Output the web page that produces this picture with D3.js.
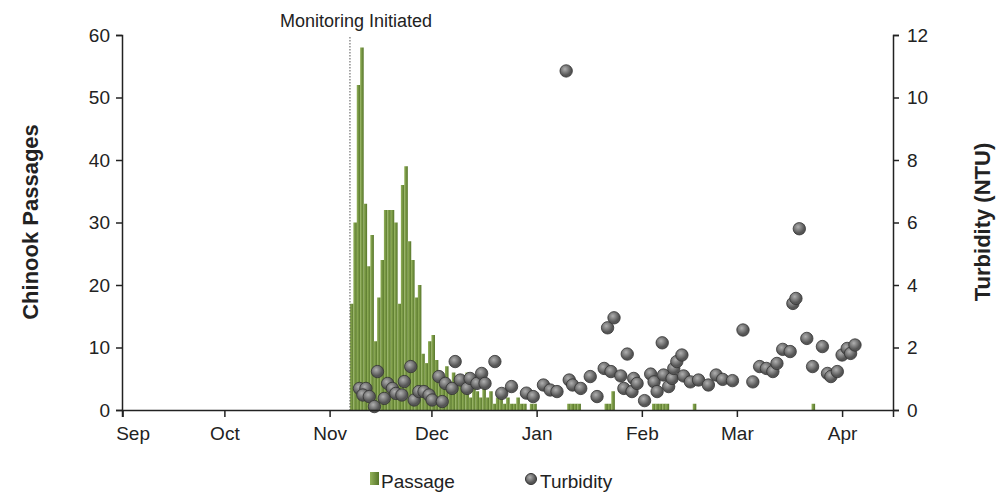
<!DOCTYPE html>
<html><head><meta charset="utf-8">
<script src="https://cdn.jsdelivr.net/npm/d3@7"></script>
<style>body{margin:0;background:#fff;font-family:"Liberation Sans",Arial,sans-serif}</style>
</head><body><div id="chart"></div>
<script>
// season starts Sep 1 2012; days are offsets from that date
const seasonStart = new Date(2012, 8, 1);
const monthLabels = ["Sep", "Oct", "Nov", "Dec", "Jan", "Feb", "Mar", "Apr"];
const monitoringDay = 67;

const passageDays = d3.range(67, 122).concat([131, 132, 133, 134, 142, 143, 144, 156, 157, 158, 159, 160, 168, 203]);
const passageValues = [17, 30, 52, 58, 33, 23, 28, 11, 18, 24, 32, 32, 32, 30, 17, 36, 39, 27, 24, 18, 20, 9, 7.5, 11, 12,
  8, 5, 4, 7, 3, 6, 4, 5, 3, 6, 2, 4, 3, 2, 5, 2, 3, 1, 2, 3, 1, 2, 1, 1, 2, 1, 1, 0, 1, 1,
  1, 1, 1, 1, 1, 1, 3, 1, 1, 1, 1, 1, 1, 1];

const turbDays = [69.8, 71.7, 70.8, 72.7, 74.2, 75.1, 77.1, 78.1, 79.5, 80.5, 82.3, 83, 84.9, 85.9, 87.3, 88.8, 90.3, 91.2, 93.2, 94.2,
  95.1, 97.1, 98, 99.5, 101.5, 102.4, 104.4, 105.8, 106.8, 109.7, 111.7, 114.6, 119, 121, 124, 126, 128, 130.7, 131.6, 132.6,
  135, 137.8, 139.8, 141.9, 143.9, 146.8, 142.9, 144.8, 148.7, 147.7, 150.1, 150.6, 151.6, 153.8, 155.6, 156.6, 157.5, 159,
  159.4, 160.9, 161.9, 162.4, 163.3, 164.8, 165.3, 167.3, 169.7, 172.6, 174.9, 176.8, 179.7, 182.8, 185.7, 187.7, 189.7,
  191.6, 192.8, 194.5, 196.7, 197.5, 198.4, 199.4, 201.6, 203.3, 206.2, 207.7, 208.7, 210.6, 212, 213.5, 214.5, 215.8];
const turbValues = [0.69, 0.69, 0.48, 0.43, 0.11, 1.23, 0.37, 0.85, 0.69, 0.53, 0.48, 0.91, 1.39, 0.32, 0.59, 0.59, 0.48, 0.32, 1.07, 0.27,
  0.85, 0.69, 1.55, 0.96, 0.69, 1.01, 0.85, 1.17, 0.85, 1.55, 0.53, 0.75, 0.54, 0.43, 0.8, 0.64, 0.59, 10.85, 0.96, 0.8,
  0.69, 1.07, 0.43, 1.33, 1.23, 1.09, 2.63, 2.95, 1.79, 0.69, 0.59, 1.01, 0.85, 0.3, 1.15, 0.9, 0.59, 2.15,
  1.12, 0.75, 1.01, 1.33, 1.55, 1.76, 1.09, 0.9, 0.96, 0.8, 1.12, 0.98, 0.94, 2.56, 0.9, 1.39, 1.33,
  1.23, 1.49, 1.94, 1.87, 3.41, 3.57, 5.8, 2.29, 1.39, 2.03, 1.17, 1.07, 1.23, 1.76, 1.97, 1.81, 2.08];

const W = 1000, H = 496;
const mLeft = 122, mRight = 893, mTop = 35, mBottom = 410;
const day = d => new Date(seasonStart.getTime() + d * 864e5);

const x = d3.scaleTime()
  .domain([new Date(2012, 7, 31, 20), new Date(2013, 3, 16)])
  .range([mLeft, mRight]);
const yL = d3.scaleLinear().domain([0, 60]).range([mBottom, mTop]);
const yR = d3.scaleLinear().domain([0, 12]).range([mBottom, mTop]);

const svg = d3.select("#chart").append("svg").attr("width", W).attr("height", H);
const defs = svg.append("defs");
const bg = defs.append("linearGradient").attr("id", "barg").attr("x1", 0).attr("x2", 1);
bg.append("stop").attr("offset", "0").attr("stop-color", "#93b25a");
bg.append("stop").attr("offset", "1").attr("stop-color", "#56752a");
const rg = defs.append("radialGradient").attr("id", "dotg").attr("cx", "0.4").attr("cy", "0.35");
rg.append("stop").attr("offset", "0").attr("stop-color", "#b0b0b0");
rg.append("stop").attr("offset", "1").attr("stop-color", "#555");

const pxDay = x(day(1)) - x(day(0));

svg.append("g").selectAll("rect")
  .data(passageDays.map((d, i) => ({ d, v: passageValues[i] })).filter(p => p.v > 0))
  .enter().append("rect")
  .attr("x", p => x(day(p.d)))
  .attr("y", p => yL(p.v))
  .attr("width", pxDay * 1.05)
  .attr("height", p => mBottom - yL(p.v))
  .attr("fill", "url(#barg)");

svg.append("line")
  .attr("x1", x(day(monitoringDay))).attr("x2", x(day(monitoringDay)))
  .attr("y1", mTop + 2).attr("y2", mBottom)
  .attr("stroke", "#555").attr("stroke-width", 1).attr("stroke-dasharray", "1.5,1.5");
svg.append("text").attr("x", 356).attr("y", 27).attr("text-anchor", "middle")
  .attr("font-size", 18).attr("fill", "#222").text("Monitoring Initiated");

svg.append("g").selectAll("circle")
  .data(turbDays.map((d, i) => ({ d, v: turbValues[i] })))
  .enter().append("circle")
  .attr("cx", p => x(day(p.d)))
  .attr("cy", p => yR(p.v))
  .attr("r", 6.2)
  .attr("fill", "url(#dotg)").attr("stroke", "#333").attr("stroke-width", 0.8);

// axes
const gl = svg.append("g").attr("transform", `translate(${mLeft},0)`)
  .call(d3.axisLeft(yL).tickValues(d3.range(0, 61, 10)).tickSize(6).tickPadding(6));
const gr = svg.append("g").attr("transform", `translate(${mRight},0)`)
  .call(d3.axisRight(yR).tickValues(d3.range(0, 13, 2)).tickSize(6).tickPadding(8));
const months = monthLabels.map((m, i) => new Date(2012, 8 + i, 1));
const gb = svg.append("g").attr("transform", `translate(0,${mBottom})`)
  .call(d3.axisBottom(x).tickValues(months).tickFormat((d, i) => monthLabels[i]).tickSize(7).tickPadding(10));
[gl, gr, gb].forEach(g => {
  g.select(".domain").attr("stroke", "#222").attr("stroke-width", 1.5);
  g.selectAll(".tick line").attr("stroke", "#222").attr("stroke-width", 1.5);
  g.selectAll("text").attr("font-size", 19).attr("fill", "#222")
    .attr("font-family", "Liberation Sans, Arial, sans-serif");
});
gb.select(".tick text").attr("dx", 10);

svg.append("text").attr("transform", "translate(38,222) rotate(-90)").attr("text-anchor", "middle")
  .attr("font-size", 22).attr("font-weight", "bold").attr("fill", "#222").text("Chinook Passages");
svg.append("text").attr("transform", "translate(990,222) rotate(-90)").attr("text-anchor", "middle")
  .attr("font-size", 22).attr("font-weight", "bold").attr("fill", "#222").text("Turbidity (NTU)");

// legend
const lg = svg.append("g").attr("font-size", 19).attr("fill", "#222");
lg.append("rect").attr("x", 370).attr("y", 472).attr("width", 9).attr("height", 13).attr("fill", "url(#barg)");
lg.append("text").attr("x", 381).attr("y", 488).text("Passage");
lg.append("circle").attr("cx", 531).attr("cy", 479).attr("r", 5.5).attr("fill", "url(#dotg)").attr("stroke", "#333");
lg.append("text").attr("x", 540).attr("y", 488).text("Turbidity");
</script></body></html>
